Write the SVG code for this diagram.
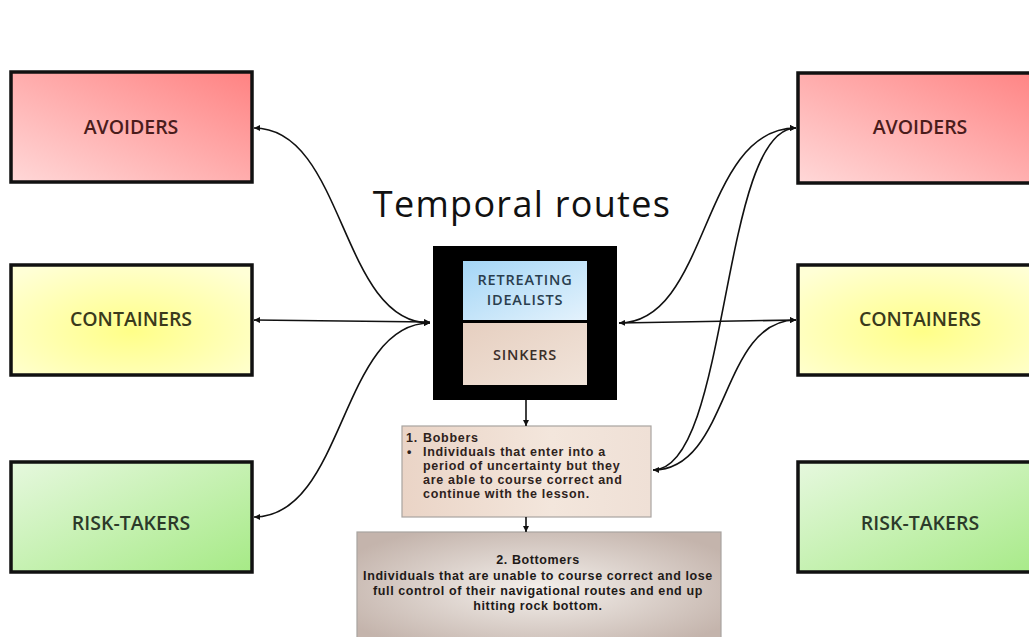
<svg xmlns="http://www.w3.org/2000/svg" width="1029" height="637" viewBox="0 0 1029 637">
<defs>
<linearGradient id="gRed" x1="0" y1="1" x2="1" y2="0">
<stop offset="0" stop-color="#ffd8d8"/><stop offset="1" stop-color="#ff8282"/>
</linearGradient>
<radialGradient id="gYel" cx="0.5" cy="0.6" r="0.7">
<stop offset="0" stop-color="#ffff88"/><stop offset="1" stop-color="#ffffd6"/>
</radialGradient>
<linearGradient id="gGrn" x1="0" y1="0" x2="1" y2="1">
<stop offset="0" stop-color="#e6f8de"/><stop offset="1" stop-color="#a6ea86"/>
</linearGradient>
<linearGradient id="gBlue" x1="0" y1="0" x2="1" y2="1">
<stop offset="0" stop-color="#a4d6f6"/><stop offset="1" stop-color="#e4f2fc"/>
</linearGradient>
<linearGradient id="gSink" x1="0" y1="0" x2="1" y2="1">
<stop offset="0" stop-color="#e6cfc0"/><stop offset="1" stop-color="#f1e4da"/>
</linearGradient>
<linearGradient id="gBob" x1="0" y1="0" x2="1" y2="0">
<stop offset="0" stop-color="#ead4c6"/><stop offset="0.6" stop-color="#f3e6dc"/><stop offset="1" stop-color="#efe0d6"/>
</linearGradient>
<radialGradient id="gBot" cx="0.5" cy="0.5" r="0.6">
<stop offset="0" stop-color="#f4f0ec"/><stop offset="1" stop-color="#c4b4ac"/>
</radialGradient>
<marker id="arr" viewBox="0 0 10 10" refX="10" refY="5" markerWidth="6" markerHeight="6" orient="auto-start-reverse" markerUnits="userSpaceOnUse">
<path d="M0,0 L10,5 L0,10 z" fill="#111"/>
</marker>
<style>
.box{stroke:#111;stroke-width:3.5}
.lbl{font-family:"Open Sans","Liberation Sans",sans-serif;font-weight:600;font-size:19.5px;text-anchor:middle}
.inner{font-family:"Open Sans","Liberation Sans",sans-serif;font-weight:600;font-size:14.5px;letter-spacing:0.8px;text-anchor:middle}
.small{font-family:"Liberation Sans",Arial,sans-serif;font-weight:700;font-size:12.5px;letter-spacing:0.7px;fill:#2e221c}
.bot{font-family:"Liberation Sans",Arial,sans-serif;font-weight:700;font-size:12.5px;letter-spacing:0.6px;fill:#1e1a18;text-anchor:middle}
.con{fill:none;stroke:#111;stroke-width:1.6}
</style>
</defs>
<rect width="1029" height="637" fill="#fff"/>

<text x="522" y="217" font-family="'Open Sans','Liberation Sans',sans-serif" font-size="36" letter-spacing="1.3" fill="#111" text-anchor="middle">Temporal routes</text>

<g id="left-avoiders"><rect class="box" x="11" y="72" width="241" height="110" fill="url(#gRed)"/><text class="lbl" x="131" y="134" fill="#4a1c1c">AVOIDERS</text></g>
<g id="left-containers"><rect class="box" x="11" y="265" width="241" height="110" fill="url(#gYel)"/><text class="lbl" x="131" y="326" fill="#3a3a1c">CONTAINERS</text></g>
<g id="left-risktakers"><rect class="box" x="11" y="462" width="241" height="110" fill="url(#gGrn)"/><text class="lbl" x="131" y="530" fill="#2c3a2a">RISK-TAKERS</text></g>

<g id="right-avoiders"><rect class="box" x="798" y="73" width="250" height="110" fill="url(#gRed)"/><text class="lbl" x="920" y="134" fill="#4a1c1c">AVOIDERS</text></g>
<g id="right-containers"><rect class="box" x="798" y="265" width="250" height="110" fill="url(#gYel)"/><text class="lbl" x="920" y="326" fill="#3a3a1c">CONTAINERS</text></g>
<g id="right-risktakers"><rect class="box" x="798" y="462" width="250" height="110" fill="url(#gGrn)"/><text class="lbl" x="920" y="530" fill="#2c3a2a">RISK-TAKERS</text></g>

<g id="temporal-routes">
<rect x="433" y="246" width="184" height="154" fill="#000"/>
<rect x="463" y="261" width="124" height="59" fill="url(#gBlue)"/>
<rect x="463" y="323" width="124" height="62" fill="url(#gSink)"/>
<text class="inner" x="525" y="285" fill="#2a3e4e">RETREATING</text>
<text class="inner" x="525" y="305" fill="#2a3e4e">IDEALISTS</text>
<text class="inner" x="525" y="360" fill="#3a2e2a">SINKERS</text>
</g>

<g id="bobbers">
<rect x="402" y="426" width="249" height="91" fill="url(#gBob)" stroke="#a8a4a0" stroke-width="1.2"/>
<text class="small" x="406" y="442">1.</text><text class="small" x="423" y="442">Bobbers</text>
<text class="small" x="407" y="456">•</text>
<text class="small" x="423" y="456">Individuals that enter into a</text>
<text class="small" x="423" y="470">period of uncertainty but they</text>
<text class="small" x="423" y="484">are able to course correct and</text>
<text class="small" x="423" y="498">continue with the lesson.</text>
</g>

<g id="bottomers">
<rect x="357" y="532" width="364" height="115" fill="url(#gBot)" stroke="#a8a4a0" stroke-width="1.2"/>
<text class="bot" x="538" y="564">2. Bottomers</text>
<text class="bot" x="538" y="580">Individuals that are unable to course correct and lose</text>
<text class="bot" x="538" y="595">full control of their navigational routes and end up</text>
<text class="bot" x="538" y="610">hitting rock bottom.</text>
</g>

<g id="connectors">
<path class="con" d="M430,323 C340,323 345,128 254,128" marker-start="url(#arr)" marker-end="url(#arr)"/>
<path class="con" d="M430,322 L254,320" marker-start="url(#arr)" marker-end="url(#arr)"/>
<path class="con" d="M430,323 C340,323 345,517 254,517" marker-start="url(#arr)" marker-end="url(#arr)"/>
<path class="con" d="M619,323 L796,320" marker-start="url(#arr)" marker-end="url(#arr)"/>
<path class="con" d="M619,323 C710,323 700,128 796,128" marker-end="url(#arr)"/>
<path class="con" d="M653,470 C730,470 720,128 796,128" marker-start="url(#arr)" marker-end="url(#arr)"/>
<path class="con" d="M653,470 C730,470 720,320 796,320" marker-end="url(#arr)"/>
<path class="con" d="M526,400 L526,426" marker-end="url(#arr)"/>
<path class="con" d="M526,517 L526,532" marker-end="url(#arr)"/>
</g>
</svg>
